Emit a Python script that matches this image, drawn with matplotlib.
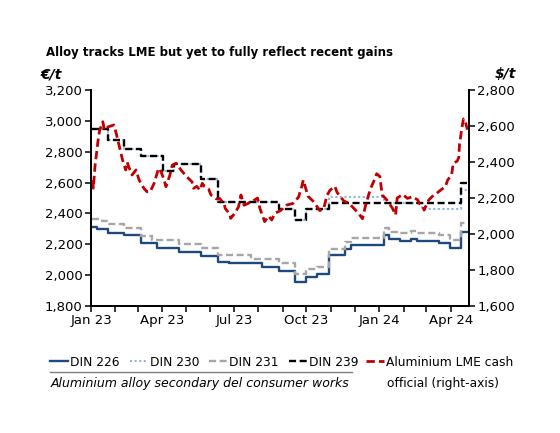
import matplotlib
matplotlib.use('Agg')
import matplotlib.pyplot as plt
import matplotlib.dates as mdates
from matplotlib.lines import Line2D
from matplotlib.ticker import FuncFormatter
import pandas as pd

plt.rcParams['font.family'] = ['DejaVu Sans']

# step series (EUR/t), value holds from date until next date
din226_dates = ['2023-01-02', '2023-01-08', '2023-01-22', '2023-02-12', '2023-03-05', '2023-03-26',
                '2023-04-23', '2023-05-21', '2023-06-11', '2023-06-25', '2023-08-06', '2023-08-27',
                '2023-09-17', '2023-10-01', '2023-10-15', '2023-10-29', '2023-11-19', '2023-11-26',
                '2024-01-07', '2024-01-14', '2024-01-28', '2024-02-11', '2024-02-18', '2024-03-17',
                '2024-03-31', '2024-04-14']
din226_vals = [2315, 2300, 2275, 2258, 2206, 2176, 2150, 2125, 2086, 2077, 2056, 2028,
               1957, 1985, 2006, 2129, 2172, 2193, 2262, 2237, 2219, 2237, 2219, 2206,
               2176, 2280]

din231_dates = ['2023-01-02', '2023-01-15', '2023-01-22', '2023-02-12', '2023-03-05', '2023-03-19',
                '2023-04-23', '2023-05-21', '2023-06-11', '2023-07-23', '2023-08-27', '2023-09-17',
                '2023-10-01', '2023-10-15', '2023-10-29', '2023-11-19', '2023-11-26', '2024-01-07',
                '2024-01-14', '2024-01-28', '2024-02-11', '2024-02-18', '2024-03-17', '2024-03-31',
                '2024-04-14']
din231_vals = [2366, 2350, 2329, 2303, 2254, 2228, 2200, 2178, 2129, 2105, 2077, 2006,
               2038, 2056, 2172, 2215, 2243, 2308, 2280, 2275, 2286, 2275, 2258, 2226,
               2335]

din239_dates = ['2023-01-02', '2023-01-22', '2023-02-12', '2023-03-05', '2023-04-02', '2023-04-16',
                '2023-05-21', '2023-06-11', '2023-08-27', '2023-09-17', '2023-10-01', '2023-10-29',
                '2024-04-14']
din239_vals = [2948, 2874, 2820, 2771, 2678, 2720, 2624, 2475, 2430, 2360, 2430, 2465, 2600]

din230_dates = ['2023-01-02', '2023-01-22', '2023-02-12', '2023-03-05', '2023-04-02', '2023-04-16',
                '2023-05-21', '2023-06-11', '2023-08-27', '2023-09-17', '2023-10-01', '2023-10-29',
                '2024-01-07', '2024-02-25', '2024-04-14']
din230_vals = [2948, 2874, 2820, 2771, 2678, 2720, 2624, 2475, 2430, 2360, 2430, 2505,
               2468, 2426, 2550]

steps_end = '2024-04-21'

# LME cash official (USD/t)
lme_dates = ['2023-01-03', '2023-01-04', '2023-01-06', '2023-01-10', '2023-01-12', '2023-01-16',
             '2023-01-18', '2023-01-23', '2023-01-30', '2023-02-02', '2023-02-06', '2023-02-10',
             '2023-02-14', '2023-02-16', '2023-02-17', '2023-02-22', '2023-02-27', '2023-03-03',
             '2023-03-09', '2023-03-13', '2023-03-17', '2023-03-22', '2023-03-27', '2023-03-29',
             '2023-04-03', '2023-04-06', '2023-04-11', '2023-04-14', '2023-04-19', '2023-04-25',
             '2023-05-02', '2023-05-09', '2023-05-11', '2023-05-15', '2023-05-19', '2023-05-22',
             '2023-05-25', '2023-05-30', '2023-06-02', '2023-06-09', '2023-06-13', '2023-06-19',
             '2023-06-20', '2023-06-26', '2023-06-27', '2023-07-03', '2023-07-07', '2023-07-10',
             '2023-07-14', '2023-07-24', '2023-07-31', '2023-08-03', '2023-08-09', '2023-08-14',
             '2023-08-18', '2023-08-22', '2023-08-29', '2023-09-06', '2023-09-14', '2023-09-21',
             '2023-09-25', '2023-09-27', '2023-10-03', '2023-10-10', '2023-10-13', '2023-10-18',
             '2023-10-23', '2023-10-27', '2023-10-31', '2023-11-06', '2023-11-09', '2023-11-17',
             '2023-11-24', '2023-11-30', '2023-12-06', '2023-12-11', '2023-12-15', '2023-12-21',
             '2023-12-27', '2023-12-29', '2024-01-02', '2024-01-05', '2024-01-11', '2024-01-18',
             '2024-01-22', '2024-01-24', '2024-01-31', '2024-02-06', '2024-02-12', '2024-02-19',
             '2024-02-21', '2024-02-26', '2024-02-27', '2024-03-04', '2024-03-08', '2024-03-14',
             '2024-03-19', '2024-03-25', '2024-03-28', '2024-04-02', '2024-04-04', '2024-04-09',
             '2024-04-11', '2024-04-12', '2024-04-15', '2024-04-17', '2024-04-19', '2024-04-22']
lme_vals = [2300, 2254, 2374, 2522, 2578, 2624, 2578, 2596, 2606, 2559, 2485, 2411,
            2356, 2400, 2383, 2328, 2356, 2300, 2254, 2235, 2235, 2282, 2356, 2365,
            2309, 2263, 2328, 2383, 2393, 2356, 2320, 2290, 2254, 2265, 2244, 2282,
            2263, 2250, 2217, 2195, 2198, 2165, 2143, 2110, 2087, 2120, 2152, 2217,
            2160, 2180, 2200, 2143, 2069, 2100, 2078, 2115, 2130, 2161, 2170, 2205,
            2263, 2300, 2210, 2180, 2161, 2130, 2143, 2215, 2244, 2265, 2230, 2185,
            2170, 2143, 2115, 2085, 2160, 2250, 2309, 2335, 2320, 2217, 2189, 2143,
            2106, 2200, 2220, 2198, 2207, 2190, 2170, 2152, 2133, 2189, 2207, 2226,
            2244, 2263, 2300, 2330, 2393, 2405, 2425, 2500, 2590, 2640, 2630, 2580]

navy = '#1F497D'
light_blue = '#8DB4E2'
grey = '#A6A6A6'
red = '#C00000'


def step_xy(dates, vals):
    d = pd.to_datetime(dates + [steps_end])
    return d, vals + [vals[-1]]


fig = plt.figure(figsize=(5.6, 4.33), dpi=100)
ax = fig.add_axes([0.1625, 0.2933, 0.675, 0.4987])
ax2 = ax.twinx()

x, y = step_xy(din226_dates, din226_vals)
l226, = ax.step(x, y, where='post', color=navy, lw=1.7)
x, y = step_xy(din230_dates, din230_vals)
l230, = ax.step(x, y, where='post', color=light_blue, lw=1.5, linestyle=(0, (1, 1.2)))
x, y = step_xy(din231_dates, din231_vals)
l231, = ax.step(x, y, where='post', color=grey, lw=1.7, linestyle=(0, (3, 1.5)))
x, y = step_xy(din239_dates, din239_vals)
l239, = ax.step(x, y, where='post', color='black', lw=1.7, linestyle=(0, (3, 1.5)))

llme, = ax2.plot(pd.to_datetime(lme_dates), lme_vals, color=red, lw=2, linestyle=(0, (3, 1.5)))

ax.set_xlim(pd.Timestamp('2023-01-01'), pd.Timestamp('2024-04-24'))
ax.set_ylim(1800, 3200)
ax2.set_ylim(1600, 2800)
ax.set_yticks(range(1800, 3201, 200))
ax2.set_yticks(range(1600, 2801, 200))
comma = FuncFormatter(lambda v, p: f'{int(v):,}')
ax.yaxis.set_major_formatter(comma)
ax2.yaxis.set_major_formatter(comma)

ax.xaxis.set_major_locator(mdates.MonthLocator(bymonth=[1, 4, 7, 10]))
ax.xaxis.set_minor_locator(mdates.MonthLocator())
ax.xaxis.set_major_formatter(mdates.DateFormatter('%b %y'))

for a in (ax, ax2):
    a.spines['top'].set_visible(False)
    for s in a.spines.values():
        s.set_linewidth(1.3)
    a.tick_params(which='both', direction='out', length=4, width=1.1, labelsize=9.5, pad=2)

fig.text(0.082, 0.878, 'Alloy tracks LME but yet to fully reflect recent gains',
         fontsize=8.5, fontweight='bold', va='center')
fig.text(0.073, 0.828, '€/t', fontsize=10, fontweight='bold', style='italic', va='center')
fig.text(0.922, 0.828, '$/t', fontsize=10, fontweight='bold', style='italic', va='center', ha='right')

fig.legend([l226, l230, l231, l239], ['DIN 226', 'DIN 230', 'DIN 231', 'DIN 239'],
           loc='center left', bbox_to_anchor=(50 / 560, 1 - 362 / 433), ncol=4, frameon=False,
           fontsize=8.8, handlelength=1.5, handletextpad=0.16, columnspacing=0.8, borderpad=0,
           borderaxespad=0)
fig.legend([llme], ['Aluminium LME cash'], loc='center left', bbox_to_anchor=(366 / 560, 1 - 362 / 433),
           frameon=False, fontsize=8.8, handlelength=1.5, handletextpad=0.16, borderpad=0,
           borderaxespad=0)
fig.text(387 / 560, 1 - 383 / 433, 'official (right-axis)', fontsize=8.8, va='center')
fig.add_artist(Line2D([50 / 560, 352 / 560], [1 - 372 / 433, 1 - 372 / 433],
                      color='#7F7F7F', lw=1))
fig.text(51 / 560, 1 - 383 / 433, 'Aluminium alloy secondary del consumer works',
         fontsize=9, style='italic', va='center')

fig.savefig('out.png', dpi=100)
